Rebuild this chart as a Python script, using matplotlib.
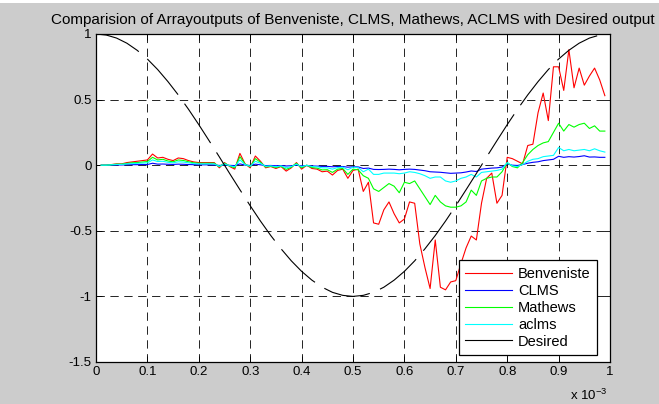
import numpy as np
import matplotlib
matplotlib.use("Agg")
import matplotlib.pyplot as plt
from matplotlib.patches import Rectangle

plt.rcParams["font.family"] = ["Liberation Sans", "DejaVu Sans"]
plt.rcParams["lines.scale_dashes"] = False

# sample times (s), 1e-5 spacing
t = np.arange(1, 100) * 1e-5
t_des = np.arange(0, 51) * 2e-5

benveniste = [
    0, 0, 0.005, 0.01, 0.01, 0.02, 0.025, 0.03, 0.035, 0.04,
    0.085, 0.055, 0.06, 0.045, 0.035, 0.055, 0.05, 0.035, 0.025, 0.02,
    0.02, 0.02, 0.02, -0.02, 0.02, -0.01, -0.03, 0.09, 0.01, -0.02,
    0.07, 0.03, -0.02, -0.01, -0.025, -0.01, -0.045, -0.02, 0.02, -0.03,
    0, -0.025, -0.03, -0.05, -0.045, -0.075, -0.04, -0.03, -0.1, -0.04,
    -0.03, -0.2, -0.13, -0.44, -0.45, -0.34, -0.28, -0.37, -0.44, -0.41,
    -0.28, -0.29, -0.6, -0.78, -0.94, -0.57, -0.93, -0.95, -0.89, -0.88,
    -0.75, -0.63, -0.54, -0.57, -0.29, -0.1, -0.06, -0.29, -0.23, 0.06,
    0.05, 0.03, 0.01, 0.15, 0.16, 0.4, 0.55, 0.34, 0.75, 0.75,
    0.57, 0.88, 0.59, 0.74, 0.61, 0.68, 0.74, 0.65, 0.53]

clms = [
    0, 0, 0.001, 0.002, 0.002, 0.003, 0.004, 0.004, 0.005, 0.005,
    0.015, 0.008, 0.009, 0.007, 0.006, 0.008, 0.007, 0.005, 0.004, 0.003,
    0.003, 0.003, 0.002, -0.002, 0.002, -0.001, -0.003, 0.01, 0.001, -0.002,
    0.008, 0.003, -0.003, -0.002, -0.004, -0.003, -0.006, -0.004, 0.001, -0.005,
    -0.003, -0.006, -0.007, -0.009, -0.009, -0.012, -0.01, -0.01, -0.015, -0.012,
    -0.013, -0.025, -0.022, -0.032, -0.033, -0.032, -0.03, -0.032, -0.035, -0.032,
    -0.03, -0.032, -0.037, -0.042, -0.05, -0.052, -0.054, -0.058, -0.062, -0.06,
    -0.058, -0.052, -0.044, -0.048, -0.03, -0.026, -0.022, -0.02, -0.014, 0.01,
    0.0, -0.002, 0.005, 0.015, 0.022, 0.026, 0.035, 0.04, 0.045, 0.068,
    0.06, 0.065, 0.062, 0.066, 0.072, 0.062, 0.063, 0.06, 0.06]

mathews = [
    0, 0, 0.004, 0.008, 0.008, 0.014, 0.018, 0.02, 0.024, 0.028,
    0.06, 0.04, 0.045, 0.032, 0.026, 0.04, 0.036, 0.026, 0.018, 0.015,
    0.015, 0.015, 0.015, -0.012, 0.015, -0.006, -0.02, 0.065, 0.008, -0.012,
    0.05, 0.022, -0.014, -0.008, -0.018, -0.008, -0.032, -0.015, 0.014, -0.02,
    0, -0.018, -0.022, -0.036, -0.034, -0.055, -0.03, -0.025, -0.07, -0.03,
    -0.035, -0.08, -0.1, -0.18, -0.2, -0.17, -0.14, -0.16, -0.21, -0.13,
    -0.14, -0.12, -0.18, -0.24, -0.3, -0.23, -0.28, -0.31, -0.32, -0.32,
    -0.31, -0.28, -0.19, -0.23, -0.12, -0.1, -0.09, -0.09, -0.05, 0.02,
    -0.01, -0.02, 0.02, 0.08, 0.12, 0.15, 0.17, 0.18, 0.25, 0.32,
    0.26, 0.31, 0.29, 0.31, 0.32, 0.28, 0.3, 0.26, 0.26]

aclms = [
    0, 0, 0.003, 0.005, 0.006, 0.01, 0.012, 0.014, 0.016, 0.018,
    0.04, 0.028, 0.03, 0.022, 0.018, 0.026, 0.024, 0.018, 0.012, 0.01,
    0.01, 0.01, 0.01, -0.008, 0.01, -0.004, -0.012, 0.04, 0.005, -0.008,
    0.03, 0.014, -0.008, -0.005, -0.012, -0.005, -0.02, -0.01, 0.008, -0.012,
    0, -0.01, -0.012, -0.02, -0.02, -0.03, -0.018, -0.015, -0.035, -0.015,
    -0.018, -0.05, -0.03, -0.07, -0.07, -0.06, -0.06, -0.06, -0.065, -0.06,
    -0.05, -0.055, -0.065, -0.08, -0.1, -0.09, -0.09, -0.12, -0.13, -0.12,
    -0.1, -0.09, -0.07, -0.09, -0.055, -0.05, -0.045, -0.04, -0.03, 0.02,
    -0.005, -0.01, 0.005, 0.03, 0.045, 0.05, 0.065, 0.07, 0.075, 0.135,
    0.11, 0.12, 0.11, 0.115, 0.12, 0.11, 0.125, 0.11, 0.1]

desired = [
    1.0, 0.992, 0.969, 0.93, 0.876, 0.809, 0.729, 0.637, 0.536, 0.426,
    0.309, 0.187, 0.063, -0.063, -0.187, -0.309, -0.426, -0.536, -0.637, -0.729,
    -0.809, -0.876, -0.93, -0.969, -0.992, -1.0, -0.992, -0.969, -0.93, -0.876,
    -0.809, -0.729, -0.637, -0.536, -0.426, -0.309, -0.187, -0.063, 0.063, 0.187,
    0.309, 0.426, 0.536, 0.637, 0.729, 0.809, 0.876, 0.93, 0.969, 0.992, 1.0]

x_ticks = [0, 0.1, 0.2, 0.3, 0.4, 0.5, 0.6, 0.7, 0.8, 0.9, 1]
x_labels = ["0", "0.1", "0.2", "0.3", "0.4", "0.5", "0.6", "0.7", "0.8", "0.9", "1"]
y_ticks = [-1.5, -1, -0.5, 0, 0.5, 1]
y_labels = ["-1.5", "-1", "-0.5", "0", "0.5", "1"]

fig = plt.figure(figsize=(6.59, 4.04), dpi=100, facecolor="#cccccc")
fig.patches.append(Rectangle((0, 1 - 3 / 404), 1, 3 / 404, transform=fig.transFigure,
                             facecolor="white", edgecolor="none"))
ax = fig.add_axes([96 / 659, 1 - 362 / 404, 514 / 659, 328 / 404])

ax.plot(t, benveniste, color="#ff0000", lw=0.8, label="Benveniste")
ax.plot(t, clms, color="#0000ff", lw=0.8, label="CLMS")
ax.plot(t, mathews, color="#00ff00", lw=0.8, label="Mathews")
ax.plot(t, aclms, color="#00ffff", lw=0.8, label="aclms")
ax.plot(t_des, desired, color="black", lw=0.8, linestyle=(0, (34, 8)), label="Desired")

ax.set_xlim(0, 1e-3)
ax.set_ylim(-1.5, 1)
ax.set_xticks(np.array(x_ticks) * 1e-3)
ax.set_xticklabels(x_labels)
ax.set_yticks(y_ticks)
ax.set_yticklabels(y_labels)
ax.tick_params(direction="in", length=4, width=0.6, top=True, right=True,
               labelsize=9.5, pad=3)
ax.grid(True, color="black", lw=0.6, linestyle=(0, (6, 4)))
for s in ax.spines.values():
    s.set_linewidth(0.9)

leg = ax.legend(loc="lower right", bbox_to_anchor=(0.975, 0.021), fontsize=10.5,
                fancybox=False, framealpha=1, edgecolor="black", borderaxespad=0,
                handlelength=3.2, handletextpad=0.4, labelspacing=0.2,
                borderpad=0.45)
leg.get_frame().set_linewidth(0.9)
for ln in leg.get_lines():
    ln.set_linestyle("-")

fig.text(353 / 659, 1 - 20 / 404,
         "Comparision of Arrayoutputs of Benveniste, CLMS, Mathews, ACLMS with Desired output",
         ha="center", va="center", fontsize=11)
fig.text(570 / 659, 1 - 395 / 404, r"x 10$^{\mathregular{-3}}$", ha="left", va="center", fontsize=9.5)

fig.savefig("out.png", dpi=100, facecolor=fig.get_facecolor())
